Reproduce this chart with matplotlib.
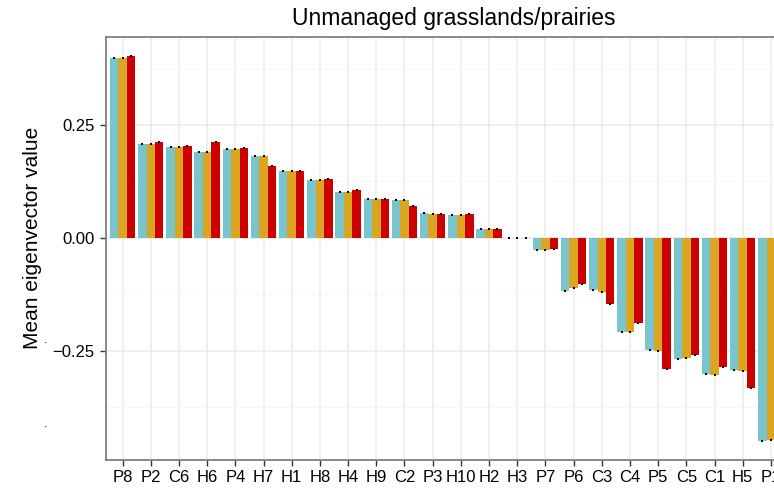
#!/usr/bin/env python3
"""Grouped bar chart of mean eigenvector values for unmanaged grasslands/prairies."""

import numpy as np
import matplotlib
matplotlib.use("Agg")
import matplotlib.pyplot as plt
from matplotlib.ticker import MultipleLocator

plt.rcParams['font.family'] = ['Liberation Sans', 'DejaVu Sans']

# Variables, ordered by mean value
categories = ["P8", "P2", "C6", "H6", "P4", "H7", "H1", "H8", "H4", "H9", "C2", "P3",
              "H10", "H2", "H3", "P7", "P6", "C3", "C4", "P5", "C5", "C1", "H5", "P1"]

series_a = [0.398, 0.208, 0.201, 0.190, 0.197, 0.181, 0.148, 0.129, 0.102, 0.086, 0.084, 0.056,
            0.051, 0.020, 0.001, -0.027, -0.117, -0.116, -0.209, -0.247, -0.268, -0.302, -0.291, -0.450]
series_b = [0.398, 0.208, 0.201, 0.191, 0.197, 0.181, 0.148, 0.129, 0.102, 0.086, 0.084, 0.053,
            0.051, 0.020, 0.001, -0.027, -0.111, -0.119, -0.209, -0.249, -0.266, -0.304, -0.295, -0.446]
series_c = [0.403, 0.212, 0.204, 0.212, 0.199, 0.159, 0.148, 0.130, 0.106, 0.087, 0.071, 0.054,
            0.053, 0.020, 0.001, -0.025, -0.101, -0.145, -0.187, -0.289, -0.258, -0.285, -0.331, -0.470]

colors = ["#7AC5CD", "#DAA520", "#CD0000"]

W, H, DPI = 774, 490, 100
fig = plt.figure(figsize=(W / DPI, H / DPI), dpi=DPI)

# panel runs past the right edge of the figure
left_px, right_px, top_px, bottom_px = 105.7, 787.8, 37, 460
ax = fig.add_axes([left_px / W, 1 - bottom_px / H,
                   (right_px - left_px) / W, (bottom_px - top_px) / H])

x = np.arange(len(categories))
bw = 0.3
for i, vals in enumerate([series_a, series_b, series_c]):
    xs = x + (i - 1) * bw
    ax.bar(xs, vals, width=bw, color=colors[i], linewidth=0, zorder=2)
    ax.plot(xs, vals, 's', color='black', ms=1.6, mew=0, zorder=3)

ax.set_xlim(-0.6, len(categories) - 0.4)
ax.set_ylim(-0.4912, 0.4447)
ax.set_xticks(x)
ax.set_xticklabels(categories)
ax.yaxis.set_minor_locator(MultipleLocator(0.125))
ax.set_yticks([0.25, 0.0, -0.25])
ax.set_yticklabels(["0.25", "0.00", "\u22120.25"])

ax.grid(True, which='major', color='#EBEBEB', linewidth=1.1, zorder=0)
ax.grid(True, which='minor', axis='y', color='#F5F5F5', linewidth=0.6, zorder=0)
ax.set_axisbelow(True)

for sp in ax.spines.values():
    sp.set_color('#808080')
    sp.set_linewidth(1.3)

ax.tick_params(axis='both', which='major', labelsize=12, length=4, width=1,
               color='#333333', labelcolor='black')
ax.tick_params(axis='x', which='major', pad=3)
ax.tick_params(axis='y', which='major', pad=4)
ax.tick_params(axis='y', which='minor', length=0)

fig.text(454 / W, 1 - 18 / H, "Unmanaged grasslands/prairies", fontsize=16.5,
         ha='center', va='center')
fig.text(33 / W, 1 - 238 / H, "Mean eigenvector value", fontsize=15,
         rotation=90, ha='center', va='center')

# stray dots beside the axis title
for ypx in (343, 427):
    fig.text(46 / W, 1 - ypx / H, ".", fontsize=9, ha='center', va='baseline')

fig.savefig("out.png", dpi=DPI)
